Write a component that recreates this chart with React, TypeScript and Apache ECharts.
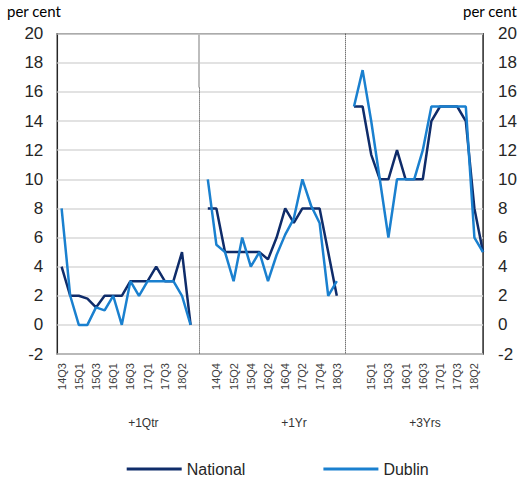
import React, { useEffect, useRef } from "react";
import * as echarts from "echarts";

const quarters = ["14Q3","14Q4","15Q1","15Q2","15Q3","15Q4","16Q1","16Q2","16Q3","16Q4","17Q1","17Q2","17Q3","17Q4","18Q2","18Q3"];
const panelNames = ["+1Qtr", "+1Yr", "+3Yrs"];
const yTicks = { min: -2, max: 20, step: 2 };

const nationalQtr = [4, 2, 2, 1.8, 1.2, 2, 2, 2, 3, 3, 3, 4, 3, 3, 5, 0];
const dublinQtr = [8, 2, 0, 0, 1.2, 1.0, 2, 0, 3, 2, 3, 3, 3, 3, 2, 0];
const nationalYr = [8, 8, 5, 5, 5, 5, 5, 4.5, 6, 8, 7, 8, 8, 8, 5, 2];
const dublinYr = [10, 5.5, 5, 3, 6, 4, 5, 3, 4.8, 6.2, 7.3, 10, 8.2, 7, 2, 3];
const national3Yr = [15, 15, 11.7, 10, 10, 12, 10, 10, 10, 14, 15, 15, 15, 14, 8, 5];
const dublin3Yr = [15, 17.5, 14, 10, 6, 10, 10, 10, 12, 15, 15, 15, 15, 15, 6, 5];

const NAVY = "#0f2c6a";
const BLUE = "#1a80cf";
const FONT = "'Liberation Sans', Arial, sans-serif";

export default function App() {
  const ref = useRef<HTMLDivElement>(null);
  useEffect(() => {
    if (!ref.current) return;
    const chart = echarts.init(ref.current, undefined, { renderer: "svg" });
    const n = quarters.length;
    const gap1 = n;
    const gap2 = 2 * n + 1;
    const categories = [...quarters, "", ...quarters, "", ...quarters];
    const national = [...nationalQtr, null, ...nationalYr, null, ...national3Yr];
    const dublin = [...dublinQtr, null, ...dublinYr, null, ...dublin3Yr];

    const dotted = { color: "#333", width: 1, type: "dotted" as const };
    const solidGray = { color: "#bdbdbd", width: 2, type: "solid" as const };

    chart.setOption({
      animation: false,
      backgroundColor: "#fff",
      textStyle: { fontFamily: FONT },
      grid: [
        { left: 57.3, right: 35.7, top: 33.7, bottom: 126, show: true, borderColor: "#262626", borderWidth: 1.5, backgroundColor: "transparent" },
        { left: 61.6, right: 37, top: 33.7, bottom: 126 },
      ],
      xAxis: [
        { gridIndex: 0, type: "value", min: 0, max: 1, show: false },
        {
          gridIndex: 1,
          type: "category",
          data: categories,
          boundaryGap: false,
          axisLine: { show: false },
          axisTick: { show: false },
          splitLine: { show: false },
          axisLabel: {
            rotate: 90,
            margin: 9,
            fontSize: 11,
            color: "#404040",
            fontFamily: FONT,
            interval: (index: number, value: string) => value !== "" && index % 2 === 0 && index !== gap2 + 1,
          },
        },
      ],
      yAxis: [
        {
          gridIndex: 0,
          type: "value",
          position: "left",
          min: yTicks.min,
          max: yTicks.max,
          interval: yTicks.step,
          axisLine: { show: false },
          axisTick: { show: false },
          splitLine: { show: true, lineStyle: { color: "#d9d9d9", width: 1.5 } },
          axisLabel: { margin: 14, fontSize: 17, color: "#262626", fontFamily: FONT },
        },
        {
          gridIndex: 0,
          type: "value",
          position: "right",
          min: yTicks.min,
          max: yTicks.max,
          interval: yTicks.step,
          axisLine: { show: false },
          axisTick: { show: false },
          splitLine: { show: false },
          axisLabel: { margin: 15, fontSize: 17, color: "#262626", fontFamily: FONT },
        },
        { gridIndex: 1, type: "value", min: yTicks.min, max: yTicks.max, show: false },
      ],
      legend: {
        left: 121.7,
        top: 456,
        itemWidth: 55,
        itemHeight: 3,
        itemGap: 78,
        icon: "rect",
        textStyle: { fontSize: 16, color: "#262626", fontFamily: FONT },
        data: ["National", "Dublin"],
      },
      graphic: [
        { type: "text", left: 7, top: 3, style: { text: "per cent", fontSize: 15, fontFamily: "Lato, sans-serif", fill: "#000" } },
        { type: "text", left: 463, top: 3, style: { text: "per cent", fontSize: 15, fontFamily: "Lato, sans-serif", fill: "#000" } },
        { type: "text", x: 143.3, y: 423, style: { text: panelNames[0], fontSize: 12, fontFamily: FONT, fill: "#333", align: "center", verticalAlign: "middle" } },
        { type: "text", x: 294, y: 423, style: { text: panelNames[1], fontSize: 12, fontFamily: FONT, fill: "#333", align: "center", verticalAlign: "middle" } },
        { type: "text", x: 425, y: 423, style: { text: panelNames[2], fontSize: 12, fontFamily: FONT, fill: "#333", align: "center", verticalAlign: "middle" } },
      ],
      series: [
        {
          name: "National",
          type: "line",
          xAxisIndex: 1,
          yAxisIndex: 2,
          data: national,
          connectNulls: false,
          symbol: "none",
          lineStyle: { color: NAVY, width: 2.5 },
          itemStyle: { color: NAVY },
          markLine: {
            silent: true,
            symbol: ["none", "none"],
            label: { show: false },
            animation: false,
            data: [
              [
                { coord: [gap1, 20], lineStyle: solidGray },
                { coord: [gap1, 16.3], lineStyle: solidGray },
              ],
              [
                { coord: [gap1, 16.3], lineStyle: dotted },
                { coord: [gap1, -2], lineStyle: dotted },
              ],
              [
                { coord: [gap2, 20], lineStyle: dotted },
                { coord: [gap2, -2], lineStyle: dotted },
              ],
            ],
          },
        },
        {
          name: "Dublin",
          type: "line",
          xAxisIndex: 1,
          yAxisIndex: 2,
          data: dublin,
          connectNulls: false,
          symbol: "none",
          lineStyle: { color: BLUE, width: 2.5 },
          itemStyle: { color: BLUE },
        },
      ],
    });
    return () => chart.dispose();
  }, []);
  return <div ref={ref} style={{ position: "fixed", left: 0, top: 0, width: 520, height: 480 }} />;
}
